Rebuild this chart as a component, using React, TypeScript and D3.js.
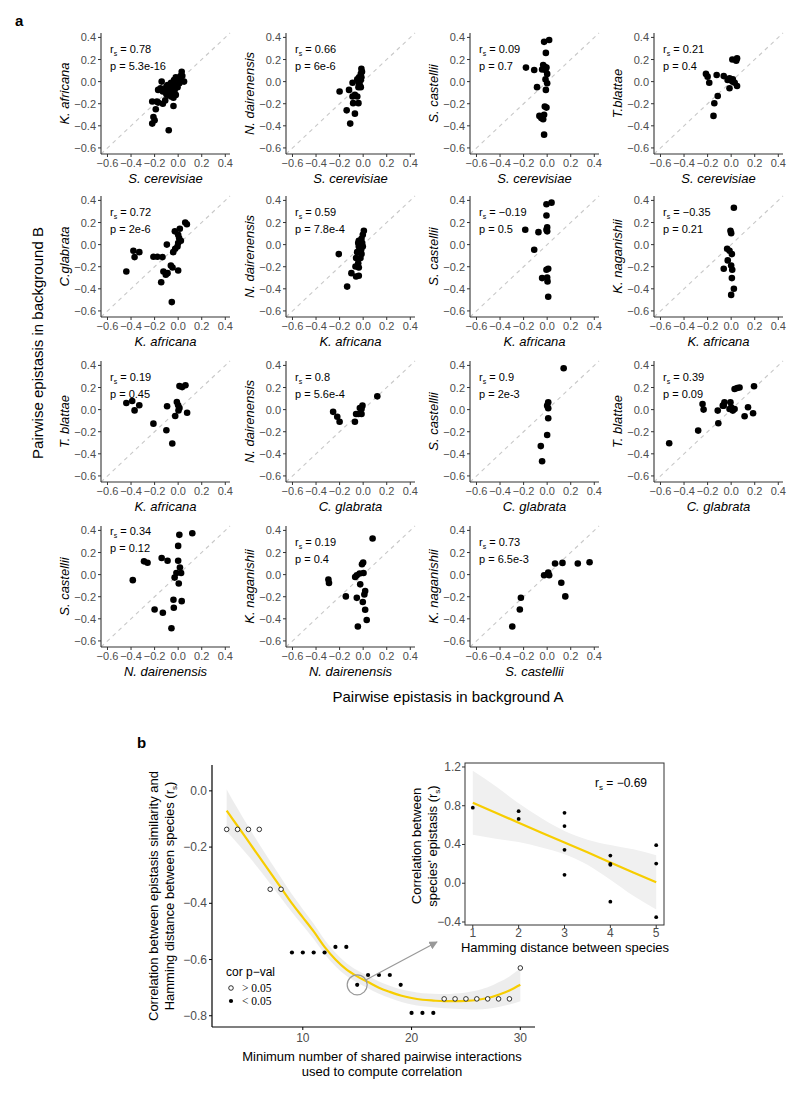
import * as d3 from "d3";

// ---- panel a data: [background A, background B] pairs
const scerKafr: [number, number][] = [
  [-0.22, -0.38], [-0.21, -0.32], [-0.2, -0.35], [-0.22, -0.18], [-0.18, -0.18], [-0.19, -0.25],
  [-0.17, -0.19], [-0.13, -0.2], [-0.11, -0.17], [-0.08, -0.44], [-0.04, -0.22], [-0.14, 0.0],
  [-0.17, -0.075], [-0.15, -0.06], [-0.12, -0.075], [-0.1, -0.045], [-0.09, -0.09], [-0.08, -0.12],
  [-0.06, -0.135], [-0.05, -0.075], [-0.035, -0.045], [-0.02, -0.03], [-0.05, -0.015], [-0.07, -0.04],
  [-0.005, 0.015], [0.01, 0.03], [0.02, 0.0], [0.035, 0.05], [0.03, 0.09], [0.05, 0.0],
  [-0.03, -0.075], [-0.055, -0.105], [-0.02, -0.12], [-0.005, -0.05], [0.01, -0.015], [0.02, 0.015],
  [-0.035, 0.015], [-0.06, -0.01], [-0.09, -0.03], [-0.02, 0.04], [0.02, 0.05], [-0.1, -0.115],
  [-0.13, -0.09], [-0.04, -0.145],
];
const scerNdai: [number, number][] = [
  [-0.015, 0.115], [-0.01, 0.09], [-0.02, 0.07], [-0.035, 0.04], [-0.05, 0.02], [-0.04, 0.0],
  [-0.02, 0.015], [-0.09, -0.01], [-0.03, -0.03], [-0.04, -0.05], [-0.02, -0.05], [-0.2, -0.09],
  [-0.12, -0.075], [-0.09, -0.135], [-0.07, -0.12], [-0.05, -0.135], [-0.085, -0.195], [-0.04, -0.195],
  [-0.14, -0.26], [-0.07, -0.29], [-0.11, -0.38], [-0.015, 0.04], [-0.035, -0.015],
];
const scerScas: [number, number][] = [
  [0.017, 0.376], [-0.026, 0.36], [-0.011, 0.26], [-0.18, 0.127], [-0.11, 0.105], [-0.034, 0.15],
  [-0.02, 0.135], [-0.006, 0.127], [-0.043, 0.11], [0.0, 0.07], [-0.014, 0.02], [0.0, -0.015],
  [-0.086, -0.05], [-0.011, -0.075], [-0.02, -0.226], [-0.006, -0.235], [-0.066, -0.31], [-0.026, -0.3],
  [-0.05, -0.33], [-0.034, -0.34], [-0.026, -0.48], [-0.014, 0.105],
];
const scerTbla: [number, number][] = [
  [0.01, 0.2], [0.05, 0.21], [0.043, 0.19], [-0.214, 0.07], [-0.2, 0.045], [-0.186, -0.01],
  [-0.123, 0.06], [-0.063, 0.05], [-0.03, 0.015], [-0.014, 0.03], [0.0, 0.015], [0.014, 0.02],
  [0.01, 0.0], [0.03, -0.01], [0.05, -0.04], [-0.014, -0.06], [-0.114, -0.13], [-0.143, -0.196],
  [-0.15, -0.31],
];
const kafrCgla: [number, number][] = [
  [0.06, 0.2], [0.074, 0.185], [0.014, 0.143], [-0.028, 0.12], [0.0, 0.09], [0.008, 0.06],
  [0.023, 0.035], [0.0, 0.014], [-0.096, 0.0], [-0.006, -0.017], [-0.025, -0.038], [-0.042, -0.068],
  [-0.38, -0.056], [-0.33, -0.068], [-0.37, -0.113], [-0.21, -0.11], [-0.176, -0.11], [-0.133, -0.113],
  [-0.44, -0.243], [-0.125, -0.243], [-0.105, -0.273], [-0.09, -0.258], [-0.062, -0.189], [-0.048, -0.207],
  [0.0, -0.234], [-0.144, -0.34], [-0.054, -0.52],
];
const kafrNdai: [number, number][] = [
  [0.006, 0.125], [-0.003, 0.09], [-0.014, 0.053], [-0.037, 0.035], [-0.042, 0.014], [-0.008, 0.014],
  [-0.023, 0.0], [-0.003, -0.017], [-0.037, -0.017], [-0.017, -0.047], [-0.051, -0.068], [-0.014, -0.086],
  [-0.207, -0.086], [-0.06, -0.122], [-0.023, -0.122], [-0.042, -0.168], [-0.065, -0.198], [-0.037, -0.207],
  [-0.1, -0.258], [-0.06, -0.288], [-0.037, -0.282], [-0.136, -0.38],
];
const kafrScas: [number, number][] = [
  [0.037, 0.38], [-0.006, 0.366], [-0.006, 0.264], [-0.186, 0.134], [-0.074, 0.113], [0.0, 0.156],
  [-0.006, 0.134], [0.0, 0.12], [-0.11, -0.047], [0.009, -0.219], [-0.006, -0.228], [-0.043, -0.303],
  [0.0, -0.297], [0.003, -0.333], [0.009, -0.472],
];
const kafrKnag: [number, number][] = [
  [0.023, 0.333], [-0.006, 0.125], [0.0, 0.104], [-0.034, -0.038], [-0.014, -0.056], [0.006, -0.086],
  [-0.029, -0.143], [-0.063, -0.219], [0.0, -0.189], [0.009, -0.228], [0.006, -0.303], [0.023, -0.4],
  [0.0, -0.455],
];
const kafrTbla: [number, number][] = [
  [0.011, 0.213], [0.034, 0.204], [0.062, 0.22], [-0.44, 0.06], [-0.39, 0.078], [-0.37, -0.007],
  [-0.33, 0.039], [-0.094, 0.03], [-0.011, 0.069], [0.0, 0.039], [0.011, 0.015], [0.003, -0.007],
  [-0.025, -0.058], [0.076, -0.028], [-0.21, -0.127], [-0.1, -0.187], [-0.05, -0.307],
];
const cglaNdai: [number, number][] = [
  [0.12, 0.12], [-0.255, -0.02], [-0.22, -0.065], [-0.2, -0.11], [-0.07, -0.11], [-0.06, -0.04],
  [-0.04, -0.04], [-0.014, -0.04], [-0.028, 0.015], [-0.006, 0.036], [-0.014, 0.005],
];
const cglaScas: [number, number][] = [
  [0.14, 0.375], [0.009, 0.066], [0.0, 0.036], [0.009, 0.012], [0.009, -0.078], [0.0, -0.23],
  [-0.054, -0.33], [-0.043, -0.467],
];
const cglaTbla: [number, number][] = [
  [-0.526, -0.304], [-0.28, -0.19], [-0.243, 0.051], [-0.234, 0.0], [-0.114, -0.009], [-0.109, -0.123],
  [-0.071, 0.036], [-0.057, 0.066], [-0.006, 0.066], [0.0, 0.021], [0.014, -0.009], [0.029, 0.006],
  [0.029, 0.187], [0.051, 0.196], [0.071, 0.2], [0.194, 0.211], [0.143, 0.021], [0.114, -0.06],
  [0.186, -0.033], [-0.014, 0.006], [-0.063, 0.036],
];
const ndaiScas: [number, number][] = [
  [0.01, 0.36], [0.12, 0.375], [0.0, 0.26], [-0.14, 0.15], [-0.29, 0.12], [-0.26, 0.107],
  [-0.09, 0.125], [0.0, 0.125], [0.015, 0.064], [-0.015, 0.015], [0.025, 0.015], [-0.03, -0.027],
  [0.005, -0.08], [-0.385, -0.05], [-0.04, -0.227], [0.03, -0.24], [-0.2, -0.315], [-0.13, -0.345],
  [-0.037, -0.3], [-0.057, -0.485],
];
const ndaiKnag: [number, number][] = [
  [0.08, 0.327], [0.0, 0.11], [-0.01, 0.094], [0.003, 0.015], [-0.03, 0.01], [-0.054, -0.006],
  [-0.068, -0.021], [-0.295, -0.045], [-0.29, -0.076], [-0.025, -0.088], [-0.147, -0.197], [-0.054, -0.21],
  [0.017, -0.148], [0.01, -0.18], [-0.003, -0.248], [0.017, -0.318], [0.03, -0.41], [-0.045, -0.47],
];
const scasKnag: [number, number][] = [
  [-0.296, -0.47], [-0.232, -0.315], [-0.223, -0.209], [-0.026, -0.006], [0.009, 0.018], [0.017, -0.006],
  [0.067, 0.1], [0.13, 0.106], [0.26, 0.1], [0.36, 0.112], [0.12, -0.073], [0.154, -0.197],
];

const axisTicks = [-0.6, -0.4, -0.2, 0.0, 0.2, 0.4];

const panels = [
  { row: 0, col: 0, xLab: "S. cerevisiae", yLab: "K. africana", rs: "0.78", p: "5.3e-16", pts: scerKafr },
  { row: 0, col: 1, xLab: "S. cerevisiae", yLab: "N. dairenensis", rs: "0.66", p: "6e-6", pts: scerNdai },
  { row: 0, col: 2, xLab: "S. cerevisiae", yLab: "S. castellii", rs: "0.09", p: "0.7", pts: scerScas },
  { row: 0, col: 3, xLab: "S. cerevisiae", yLab: "T.blattae", rs: "0.21", p: "0.4", pts: scerTbla },
  { row: 1, col: 0, xLab: "K. africana", yLab: "C.glabrata", rs: "0.72", p: "2e-6", pts: kafrCgla },
  { row: 1, col: 1, xLab: "K. africana", yLab: "N. dairenensis", rs: "0.59", p: "7.8e-4", pts: kafrNdai },
  { row: 1, col: 2, xLab: "K. africana", yLab: "S. castellii", rs: "\u22120.19", p: "0.5", pts: kafrScas },
  { row: 1, col: 3, xLab: "K. africana", yLab: "K. naganishii", rs: "\u22120.35", p: "0.21", pts: kafrKnag },
  { row: 2, col: 0, xLab: "K. africana", yLab: "T. blattae", rs: "0.19", p: "0.45", pts: kafrTbla },
  { row: 2, col: 1, xLab: "C. glabrata", yLab: "N. dairenensis", rs: "0.8", p: "5.6e-4", pts: cglaNdai },
  { row: 2, col: 2, xLab: "C. glabrata", yLab: "S. castellii", rs: "0.9", p: "2e-3", pts: cglaScas },
  { row: 2, col: 3, xLab: "C. glabrata", yLab: "T. blattae", rs: "0.39", p: "0.09", pts: cglaTbla },
  { row: 3, col: 0, xLab: "N. dairenensis", yLab: "S. castellii", rs: "0.34", p: "0.12", pts: ndaiScas, dy: -11 },
  { row: 3, col: 1, xLab: "N. dairenensis", yLab: "K. naganishii", rs: "0.19", p: "0.4", pts: ndaiKnag },
  { row: 3, col: 2, xLab: "S. castellii", yLab: "K. naganishii", rs: "0.73", p: "6.5e-3", pts: scasKnag },
];

// ---- panel b data
const minShared = [3, 4, 5, 6, 7, 8, 9, 10, 11, 12, 13, 14, 15, 16, 17, 18, 19, 20, 21, 22, 23, 24, 25, 26, 27, 28, 29, 30];
const hammingCor = [
  -0.137, -0.137, -0.137, -0.137, -0.35, -0.35, -0.575, -0.575, -0.575, -0.575, -0.555, -0.555, -0.69, -0.655,
  -0.655, -0.655, -0.69, -0.79, -0.79, -0.79, -0.74, -0.74, -0.74, -0.74, -0.74, -0.74, -0.74, -0.63,
];
const corSignificant = [
  false, false, false, false, false, false, true, true, true, true, true, true, true, true,
  true, true, true, true, true, true, false, false, false, false, false, false, false, false,
];
const smoothFit = [
  -0.07, -0.125, -0.18, -0.235, -0.29, -0.345, -0.4, -0.45, -0.5, -0.555, -0.6, -0.635, -0.66, -0.68,
  -0.7, -0.715, -0.728, -0.737, -0.743, -0.746, -0.748, -0.748, -0.747, -0.744, -0.737, -0.725, -0.71, -0.69,
];
const smoothSe = [
  0.075, 0.062, 0.052, 0.045, 0.04, 0.036, 0.032, 0.029, 0.027, 0.025, 0.024, 0.023, 0.022, 0.022,
  0.022, 0.022, 0.022, 0.023, 0.023, 0.024, 0.025, 0.027, 0.03, 0.034, 0.038, 0.044, 0.05, 0.058,
];

const hamming = [1, 2, 2, 3, 3, 3, 3, 4, 4, 4, 4, 5, 5, 5];
const speciesCor = [0.78, 0.744, 0.664, 0.727, 0.59, 0.345, 0.087, 0.286, 0.19, 0.2, -0.19, 0.393, 0.203, -0.35];
const lmX = [1, 1.5, 2, 2.5, 3, 3.5, 4, 4.5, 5];
const lmFit = [0.83, 0.7275, 0.625, 0.52, 0.42, 0.32, 0.215, 0.11, 0.01];
const lmLo = [0.5, 0.46, 0.425, 0.37, 0.3, 0.19, 0.035, -0.13, -0.27];
const lmHi = [1.16, 1.0, 0.825, 0.67, 0.54, 0.45, 0.395, 0.35, 0.29];

const FONT = "Liberation Sans, Arial, Helvetica, sans-serif";
const TICK_COL = "#4d4d4d";
const AXIS_COL = "#333333";
const GOLD = "#f7cd00";

const colX = [101, 286, 470, 654];
const rowY = [154, 317, 482, 647];
const PW = 129;
const PH = 121;

const fmt = d3.format(".1f");

function Scatter({ pn }: { pn: any }) {
  const x0 = colX[pn.col];
  const yb = rowY[pn.row];
  const x = d3.scaleLinear().domain([-0.655, 0.44]).range([x0, x0 + PW]);
  const y = d3.scaleLinear().domain([-0.655, 0.44]).range([yb, yb - PH]);
  const dy = pn.dy || 0;
  const ty = y(0.4) + dy;
  return (
    <g>
      <line x1={x(-0.655)} y1={y(-0.655)} x2={x(0.44)} y2={y(0.44)} stroke="#c8c8c8" strokeWidth={1.1} strokeDasharray="4,4" />
      {pn.pts.map((d: [number, number], i: number) => (
        <circle key={i} cx={x(d[0])} cy={y(d[1])} r={3.3} fill="#000" />
      ))}
      <line x1={x0} y1={yb - PH} x2={x0} y2={yb} stroke={AXIS_COL} strokeWidth={1.1} />
      <line x1={x0} y1={yb} x2={x0 + PW} y2={yb} stroke={AXIS_COL} strokeWidth={1.1} />
      {axisTicks.map((t) => (
        <g key={"x" + t}>
          <line x1={x(t)} x2={x(t)} y1={yb} y2={yb + 3} stroke={AXIS_COL} />
          <text x={x(t)} y={yb + 13} textAnchor="middle" fontSize={11} fill={TICK_COL}>{fmt(t)}</text>
          <line x1={x0 - 3} x2={x0} y1={y(t)} y2={y(t)} stroke={AXIS_COL} />
          <text x={x0 - 5} y={y(t) + 4} textAnchor="end" fontSize={11} fill={TICK_COL}>{fmt(t)}</text>
        </g>
      ))}
      <text x={x0 + PW / 2} y={yb + 29} textAnchor="middle" fontSize={13} fontStyle="italic" fill="#000">{pn.xLab}</text>
      <text transform={`translate(${x0 - 32},${yb - PH / 2}) rotate(-90)`} textAnchor="middle" fontSize={13} fontStyle="italic" fill="#000">{pn.yLab}</text>
      <text x={x0 + 9} y={ty + 16} fontSize={11} fill="#000">
        r<tspan fontSize={7} dy={3}>s</tspan><tspan dy={-3}>{" = " + pn.rs}</tspan>
      </text>
      <text x={x0 + 9} y={ty + 33} fontSize={11} fill="#000">{"p = " + pn.p}</text>
    </g>
  );
}

function MainB() {
  const x = d3.scaleLinear().domain([1.65, 31.35]).range([212, 535]);
  const y = d3.scaleLinear().domain([-0.84, 0.092]).range([1027, 765]);
  const band = d3.area<number>()
    .x((_, i) => x(minShared[i]))
    .y0((d, i) => y(d - smoothSe[i]))
    .y1((d, i) => y(d + smoothSe[i]))
    .curve(d3.curveMonotoneX);
  const line = d3.line<number>().x((_, i) => x(minShared[i])).y((d) => y(d)).curve(d3.curveMonotoneX);
  const yt = [0.0, -0.2, -0.4, -0.6, -0.8];
  const xt = [10, 20, 30];
  const cx = x(15);
  const cy = y(-0.69);
  return (
    <g>
      <path d={band(smoothFit) || ""} fill="#ebebeb" opacity={0.9} />
      <path d={line(smoothFit) || ""} fill="none" stroke={GOLD} strokeWidth={2.2} />
      {minShared.map((v, i) =>
        corSignificant[i] ? (
          <circle key={i} cx={x(v)} cy={y(hammingCor[i])} r={2.1} fill="#000" />
        ) : (
          <circle key={i} cx={x(v)} cy={y(hammingCor[i])} r={2.3} fill="#fff" stroke="#000" strokeWidth={0.8} />
        )
      )}
      <circle cx={cx} cy={cy} r={10} fill="none" stroke="#999" strokeWidth={1.2} />
      <line x1={cx + 9} y1={cy - 5} x2={437} y2={942} stroke="#999" strokeWidth={1.2} markerEnd="url(#arr)" />
      <line x1={212} y1={765} x2={212} y2={1027} stroke="#000" strokeWidth={1.2} />
      <line x1={212} y1={1027} x2={535} y2={1027} stroke="#000" strokeWidth={1.2} />
      {yt.map((t) => (
        <g key={"y" + t}>
          <line x1={209} x2={212} y1={y(t)} y2={y(t)} stroke="#000" />
          <text x={207} y={y(t) + 4} textAnchor="end" fontSize={12} fill={TICK_COL}>{fmt(t)}</text>
        </g>
      ))}
      {xt.map((t) => (
        <g key={"x" + t}>
          <line x1={x(t)} x2={x(t)} y1={1027} y2={1030} stroke="#000" />
          <text x={x(t)} y={1042} textAnchor="middle" fontSize={12} fill={TICK_COL}>{t}</text>
        </g>
      ))}
      <text transform="translate(158,896) rotate(-90)" textAnchor="middle" fontSize={13} fill="#000">
        Correlation between epistasis similarity and
      </text>
      <text transform="translate(174,896) rotate(-90)" textAnchor="middle" fontSize={13} fill="#000">
        Hamming distance between species (r<tspan fontSize={8} dy={3}>s</tspan><tspan dy={-3}>)</tspan>
      </text>
      <text x={382} y={1061} textAnchor="middle" fontSize={13} fill="#000">Minimum number of shared pairwise interactions</text>
      <text x={382} y={1076} textAnchor="middle" fontSize={13} fill="#000">used to compute correlation</text>
      <text x={226} y={976} fontSize={12} fill="#000">cor p−val</text>
      <circle cx={231} cy={988} r={2.3} fill="#fff" stroke="#000" strokeWidth={0.8} />
      <text x={242} y={992} fontSize={11.5} fill="#000" fontFamily="Liberation Serif, serif">{"> 0.05"}</text>
      <circle cx={231} cy={1001} r={2.1} fill="#000" />
      <text x={242} y={1005} fontSize={11.5} fill="#000" fontFamily="Liberation Serif, serif">{"< 0.05"}</text>
    </g>
  );
}

function InsetB() {
  const x = d3.scaleLinear().domain([0.83, 5.17]).range([465, 664]);
  const y = d3.scaleLinear().domain([-0.431, 1.241]).range([925, 763]);
  const band = d3.area<number>()
    .x((d) => x(d))
    .y0((_, i) => y(lmLo[i]))
    .y1((_, i) => y(lmHi[i]))
    .curve(d3.curveMonotoneX);
  const line = d3.line<number>().x((d) => x(d)).y((_, i) => y(lmFit[i]));
  const yt = [1.2, 0.8, 0.4, 0.0, -0.4];
  const xt = [1, 2, 3, 4, 5];
  return (
    <g>
      <rect x={465} y={763} width={199} height={162} fill="#fff" />
      <path d={band(lmX) || ""} fill="#f0f0f0" />
      <path d={line(lmX) || ""} fill="none" stroke={GOLD} strokeWidth={2.2} />
      {hamming.map((h, i) => (
        <circle key={i} cx={x(h)} cy={y(speciesCor[i])} r={1.9} fill="#000" />
      ))}
      <rect x={465} y={763} width={199} height={162} fill="none" stroke={AXIS_COL} strokeWidth={1} />
      {yt.map((t) => (
        <g key={"y" + t}>
          <line x1={462} x2={465} y1={y(t)} y2={y(t)} stroke={AXIS_COL} />
          <text x={461} y={y(t) + 4} textAnchor="end" fontSize={12} fill={TICK_COL}>{fmt(t)}</text>
        </g>
      ))}
      {xt.map((t) => (
        <g key={"x" + t}>
          <line x1={x(t)} x2={x(t)} y1={925} y2={928} stroke={AXIS_COL} />
          <text x={x(t)} y={937} textAnchor="middle" fontSize={12} fill={TICK_COL}>{t}</text>
        </g>
      ))}
      <text x={595} y={787} fontSize={12} fill="#000">
        r<tspan fontSize={8} dy={3}>s</tspan><tspan dy={-3}> = −0.69</tspan>
      </text>
      <text transform="translate(421,846) rotate(-90)" textAnchor="middle" fontSize={13} fill="#000">Correlation between</text>
      <text transform="translate(437,846) rotate(-90)" textAnchor="middle" fontSize={13} fill="#000">
        species' epistasis (r<tspan fontSize={8} dy={3}>s</tspan><tspan dy={-3}>)</tspan>
      </text>
      <text x={565} y={952} textAnchor="middle" fontSize={13} fill="#000">Hamming distance between species</text>
    </g>
  );
}

export default function App() {
  return (
    <svg width={800} height={1094} style={{ position: "absolute", left: 0, top: 0, background: "#fff" }} fontFamily={FONT}>
      <defs>
        <marker id="arr" viewBox="0 0 10 10" refX={9} refY={5} markerWidth={7} markerHeight={7} orient="auto">
          <path d="M0,0 L10,5 L0,10 z" fill="#999" />
        </marker>
      </defs>
      <rect width={800} height={1094} fill="#fff" />
      <text x={15} y={26} fontSize={15} fontWeight="bold">a</text>
      <text x={137} y={748} fontSize={15} fontWeight="bold">b</text>
      {panels.map((pn, i) => (
        <Scatter key={i} pn={pn} />
      ))}
      <text transform="translate(43,343) rotate(-90)" textAnchor="middle" fontSize={15} fill="#000">Pairwise epistasis in background B</text>
      <text x={448} y={702} textAnchor="middle" fontSize={15} fill="#000">Pairwise epistasis in background A</text>
      <MainB />
      <InsetB />
    </svg>
  );
}
